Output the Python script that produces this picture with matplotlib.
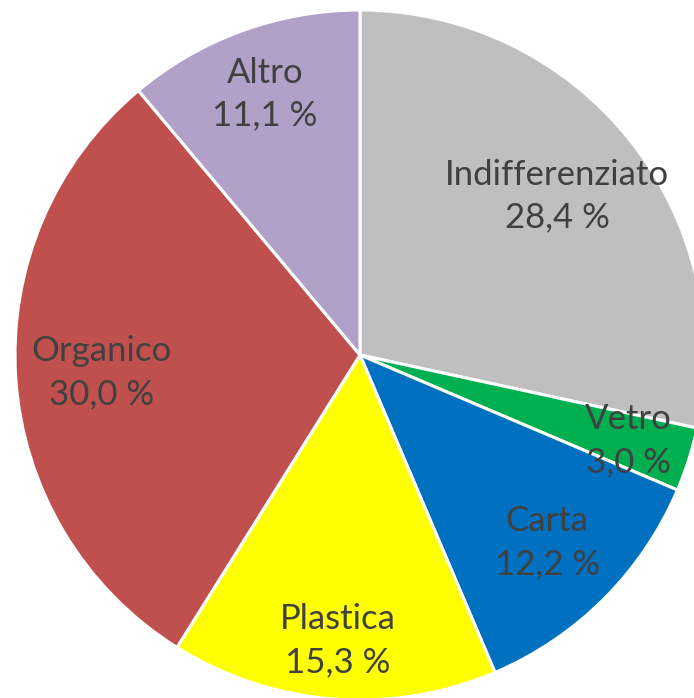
import matplotlib
matplotlib.use('Agg')
import matplotlib.pyplot as plt
import numpy as np

# =========================
# dati
# =========================
categorie = ["Indifferenziato", "Vetro", "Carta", "Plastica", "Organico", "Altro"]
valori = [28.4, 3.0, 12.2, 15.3, 30.0, 11.1]

colori = ["#BFBFBF", "#00B050", "#0070C0", "#FFFF00", "#C0504D", "#B1A0C7"]
# distanza delle etichette dal centro (frazione del raggio)
dist_etichette = [0.734, 0.817, 0.768, 0.831, 0.75, 0.805]

plt.rcParams['font.family'] = ['Lato', 'DejaVu Sans']

fig = plt.figure(figsize=(6.94, 6.98), dpi=100)
ax = fig.add_axes([0, 0, 1, 1])

etichette = [f"{c}\n{v:.1f} %".replace('.', ',') for c, v in zip(categorie, valori)]

wedges, texts = ax.pie(
    valori,
    colors=colori,
    startangle=90,
    counterclock=False,
    labels=etichette,
    labeldistance=0.75,
    wedgeprops=dict(edgecolor='white', linewidth=2.2),
    textprops=dict(color='#404040', fontsize=25),
)

# riposiziona etichette al centro
for w, t, d in zip(wedges, texts, dist_etichette):
    ang = np.deg2rad((w.theta1 + w.theta2) / 2)
    t.set_position((d * np.cos(ang), d * np.sin(ang)))
    t.set_ha('center')
    t.set_va('center')
    t.set_multialignment('center')
    t.set_linespacing(1.42)

ax.set_aspect('auto')
ax.set_xlim(-360 / 345, (694 - 360) / 345)
ax.set_ylim(-(698 - 355) / 345, 355 / 345)
ax.axis('off')

plt.savefig("out.png", dpi=100)
plt.close()
